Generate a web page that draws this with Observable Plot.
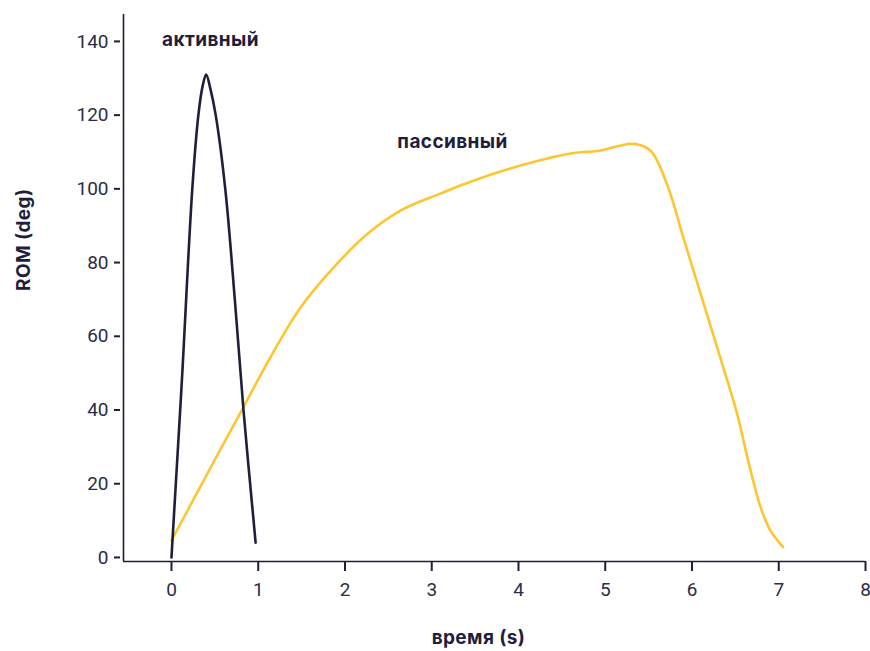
<!DOCTYPE html>
<html>
<head>
<meta charset="utf-8">
<script src="https://cdn.jsdelivr.net/npm/d3@7"></script>
<script src="https://cdn.jsdelivr.net/npm/@observablehq/plot@0.6"></script>
<style>
  html, body { margin: 0; padding: 0; background: #fff; }
  #chart svg { display: block; }
</style>
</head>
<body>
<div id="chart"></div>
<script>
// Data
const activeT   = [0, 0.03, 0.12, 0.24, 0.31, 0.36, 0.40, 0.45, 0.51, 0.62, 0.73, 0.83, 0.97];
const activeROM = [0, 12, 48, 100, 120, 128, 131, 127, 120, 100, 70, 40, 4];

const passiveT   = [0, 0.42, 0.83, 1.14, 1.49, 1.91, 2.26, 2.64, 3.10, 3.33, 3.83, 4.6, 4.95, 5.15, 5.33, 5.52, 5.71, 5.91, 6.10, 6.29, 6.42, 6.52, 6.65, 6.79, 6.90, 7.05];
const passiveROM = [4.6, 23, 40.8, 54.3, 67.9, 79.7, 87.8, 94.1, 98.7, 100.9, 105, 109.6, 110.4, 111.6, 112.2, 110.4, 101.4, 86, 71.5, 57, 47, 39, 26, 13.7, 7.5, 2.8];

const seriesLabels = ["активный", "пассивный"];
const labelT   = [0.45, 3.24];
const labelROM = [140.4, 112.6];

const xTicks = [0, 1, 2, 3, 4, 5, 6, 7, 8];
const yTicks = [0, 20, 40, 60, 80, 100, 120, 140];
const xTitle = "время (s)";
const yTitle = "ROM (deg)";

const active  = activeT.map((t, i) => ({t, rom: activeROM[i]}));
const passive = passiveT.map((t, i) => ({t, rom: passiveROM[i]}));
const labels  = seriesLabels.map((s, i) => ({s, t: labelT[i], rom: labelROM[i]}));

const ink = "#1f1e3b";
const yellow = "#fdc530";
const xMin = -0.553, xMax = 8, yMin = -1.1, yMax = 147.3;

const chart = Plot.plot({
  width: 870,
  height: 651,
  marginLeft: 123,
  marginRight: 5,
  marginTop: 14,
  marginBottom: 90,
  style: {fontFamily: "Roboto, sans-serif", fontSize: "19px", color: "#2d2c44", background: "#fff"},
  x: {domain: [xMin, xMax]},
  y: {domain: [yMin, yMax]},
  marks: [
    Plot.axisX({ticks: xTicks, tickSize: 10, tickPadding: 11, tickFormat: d => d, label: null, stroke: ink, strokeWidth: 2, fontSize: 19}),
    Plot.axisY({ticks: yTicks, tickSize: 6, tickPadding: 6, tickFormat: d => d, label: null, stroke: ink, strokeWidth: 2, fontSize: 19, dx: -3}),
    Plot.ruleX([xMin], {stroke: ink, strokeWidth: 1.6}),
    Plot.ruleY([yMin], {stroke: ink, strokeWidth: 1.6}),
    Plot.line(passive, {x: "t", y: "rom", stroke: yellow, strokeWidth: 2.6, curve: "catmull-rom"}),
    Plot.line(active, {x: "t", y: "rom", stroke: ink, strokeWidth: 2.6, curve: "catmull-rom"}),
    Plot.text(labels, {x: "t", y: "rom", text: "s", fill: ink, fontWeight: "bold", fontSize: 19, fontFamily: "Inter, sans-serif"}),
    Plot.text([xTitle], {frameAnchor: "bottom", dy: 82, dx: -16, fill: ink, fontWeight: "bold", fontSize: 19, fontFamily: "Inter, sans-serif"}),
    Plot.text([yTitle], {frameAnchor: "left", dx: -100, dy: 3, rotate: -90, fill: ink, fontWeight: "bold", fontSize: 19, fontFamily: "Inter, sans-serif"})
  ]
});
d3.select(chart).selectAll("text").filter(function() {
  return this.closest("g") && this.closest("g").getAttribute("font-weight") === "bold";
}).attr("letter-spacing", "0.4px");
document.getElementById("chart").appendChild(chart);
</script>
</body>
</html>
